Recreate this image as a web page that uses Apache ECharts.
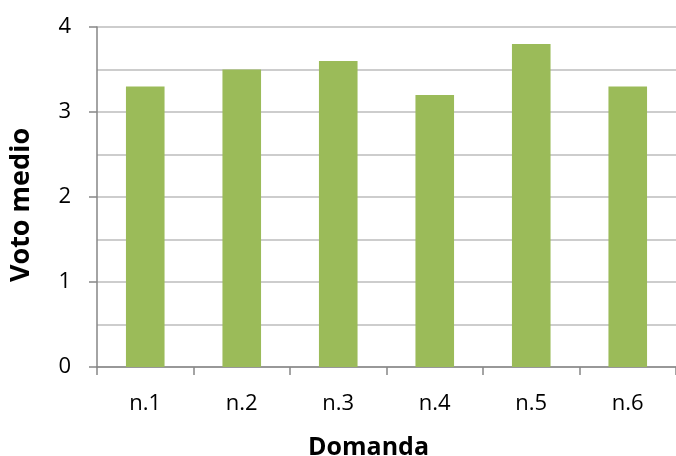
<!DOCTYPE html>
<html>
<head>
<meta charset="utf-8">
<script src="https://cdn.jsdelivr.net/npm/echarts@6/dist/echarts.min.js"></script>
<style>html,body{margin:0;padding:0;background:#fff}#c{width:676px;height:456px}</style>
</head>
<body>
<div id="c"></div>
<script>
const categories = ['n.1', 'n.2', 'n.3', 'n.4', 'n.5', 'n.6'];
const votoMedio = [3.3, 3.5, 3.6, 3.2, 3.8, 3.3];
const xTitle = 'Domanda';
const yTitle = 'Voto medio';

const chart = echarts.init(document.getElementById('c'), null, {renderer: 'canvas'});
chart.setOption({
  animation: false,
  backgroundColor: '#ffffff',
  grid: {left: 97, right: 0, top: 27, bottom: 89, containLabel: false, outerBoundsMode: 'none'},
  xAxis: {
    type: 'category',
    data: categories,
    boundaryGap: true,
    name: xTitle,
    nameLocation: 'middle',
    nameGap: 68,
    nameTextStyle: {fontFamily: 'Open Sans', fontWeight: 'bold', fontSize: 25, color: '#000', padding: [0, 36, 0, 0]},
    axisLine: {lineStyle: {color: '#868686', width: 1.5}},
    axisTick: {show: true, alignWithLabel: false, length: 8, lineStyle: {color: '#868686', width: 1.5}},
    axisLabel: {fontFamily: 'Open Sans', fontSize: 22, color: '#000', margin: 26},
    splitLine: {show: false}
  },
  yAxis: {
    type: 'value',
    min: 0, max: 4, interval: 1,
    name: yTitle,
    nameLocation: 'middle',
    nameGap: 62,
    nameTextStyle: {fontFamily: 'Open Sans', fontWeight: 'bold', fontSize: 27, color: '#000', padding: [0, 16, 0, 0]},
    axisLine: {show: true, lineStyle: {color: '#868686', width: 1.5}},
    axisTick: {show: true, length: 8, lineStyle: {color: '#868686', width: 1.5}},
    axisLabel: {fontFamily: 'Open Sans', fontSize: 22, color: '#000', margin: 26},
    splitLine: {show: true, lineStyle: {color: '#bdbdbd', width: 1.5}},
    minorTick: {show: false, splitNumber: 2},
    minorSplitLine: {show: true, lineStyle: {color: '#bdbdbd', width: 1.5}}
  },
  series: [{
    type: 'bar',
    data: votoMedio,
    barWidth: '40%',
    itemStyle: {color: '#9bbb59'}
  }]
});
</script>
</body>
</html>
